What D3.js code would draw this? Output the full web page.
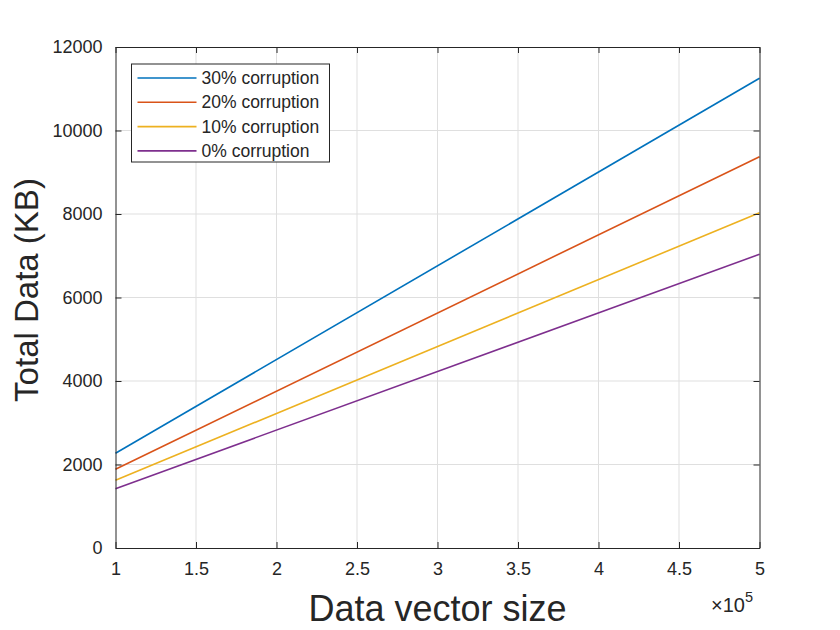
<!DOCTYPE html>
<html>
<head>
<meta charset="utf-8">
<script src="https://cdn.jsdelivr.net/npm/d3@7"></script>
<style>
  body { margin: 0; background: #fff; }
  svg text { font-family: "Liberation Sans", Arial, Helvetica, sans-serif; fill: #262626; }
</style>
</head>
<body>
<div id="chart"></div>
<script>
// data (x in units of 1e5)
const xValues = [1, 5]
const seriesNames = ['30% corruption', '20% corruption', '10% corruption', '0% corruption']
const seriesColors = ['#0072bd', '#d95319', '#edb120', '#7e2f8e']
const values30 = [2268, 11250]
const values20 = [1885, 9373]
const values10 = [1621, 8031]
const values0  = [1421, 7035]
const xTicks = [1, 1.5, 2, 2.5, 3, 3.5, 4, 4.5, 5]
const yTicks = [0, 2000, 4000, 6000, 8000, 10000, 12000]

const W = 840, H = 630
const m = { left: 115.5, right: 80.5, top: 47, bottom: 82 }
const iw = W - m.left - m.right
const ih = H - m.top - m.bottom

const svg = d3.select('#chart').append('svg')
  .attr('width', W).attr('height', H)

const x = d3.scaleLinear().domain([1, 5]).range([0, iw])
const y = d3.scaleLinear().domain([0, 12000]).range([ih, 0])

const g = svg.append('g').attr('transform', `translate(${m.left},${m.top})`)

// grid
g.append('g').selectAll('line').data(xTicks.slice(1, -1)).join('line')
  .attr('x1', d => x(d)).attr('x2', d => x(d))
  .attr('y1', 0).attr('y2', ih)
  .attr('stroke', '#dfdfdf').attr('stroke-width', 1)
g.append('g').selectAll('line').data(yTicks.slice(1, -1)).join('line')
  .attr('y1', d => y(d)).attr('y2', d => y(d))
  .attr('x1', 0).attr('x2', iw)
  .attr('stroke', '#dfdfdf').attr('stroke-width', 1)

// lines
const series = [values30, values20, values10, values0]
const line = d3.line().x((d, i) => x(xValues[i])).y(d => y(d))
series.forEach((vals, i) => {
  g.append('path').datum(vals)
    .attr('d', line)
    .attr('fill', 'none')
    .attr('stroke', seriesColors[i])
    .attr('stroke-width', 1.6)
})

// axes (ticks inward, like MATLAB)
g.append('g').attr('transform', `translate(0,${ih})`)
  .call(d3.axisBottom(x).tickValues(xTicks).tickSizeInner(-6).tickSizeOuter(0)
    .tickPadding(14).tickFormat(d3.format('')))
g.append('g')
  .call(d3.axisLeft(y).tickValues(yTicks).tickSizeInner(-6).tickSizeOuter(0)
    .tickPadding(13).tickFormat(d3.format('')))
g.append('g')
  .call(d3.axisTop(x).tickValues(xTicks).tickSizeInner(-6).tickSizeOuter(0).tickFormat(''))
g.append('g').attr('transform', `translate(${iw},0)`)
  .call(d3.axisRight(y).tickValues(yTicks).tickSizeInner(-6).tickSizeOuter(0).tickFormat(''))

g.selectAll('.domain').attr('stroke', '#262626').attr('stroke-width', 1)
g.selectAll('.tick line').attr('stroke', '#262626')
g.selectAll('.tick text').attr('font-size', 18).style('fill', '#262626')
  .attr('font-family', '"Liberation Sans", Arial, sans-serif')

// exponent label
const ex = svg.append('text').attr('x', 711).attr('y', 612).attr('font-size', 20)
ex.append('tspan').text('\u00d710')
ex.append('tspan').attr('dy', -10).attr('font-size', 14.5).text('5')

// axis titles
svg.append('text')
  .attr('x', m.left + iw / 2).attr('y', 621)
  .attr('text-anchor', 'middle').attr('font-size', 36)
  .text('Data vector size')
svg.append('text')
  .attr('transform', `translate(37.5,290) rotate(-90)`)
  .attr('text-anchor', 'middle').attr('font-size', 33)
  .text('Total Data (KB)')

// legend
const lg = svg.append('g').attr('transform', 'translate(131.5,64)')
lg.append('rect').attr('width', 198).attr('height', 98)
  .attr('fill', '#fff').attr('stroke', '#262626').attr('stroke-width', 1)
seriesNames.forEach((name, i) => {
  const yy = 14 + i * 24.3
  lg.append('line').attr('x1', 6).attr('x2', 65).attr('y1', yy).attr('y2', yy)
    .attr('stroke', seriesColors[i]).attr('stroke-width', 1.6)
  lg.append('text').attr('x', 70).attr('y', yy + 6).attr('font-size', 17.5).text(name)
})
</script>
</body>
</html>
